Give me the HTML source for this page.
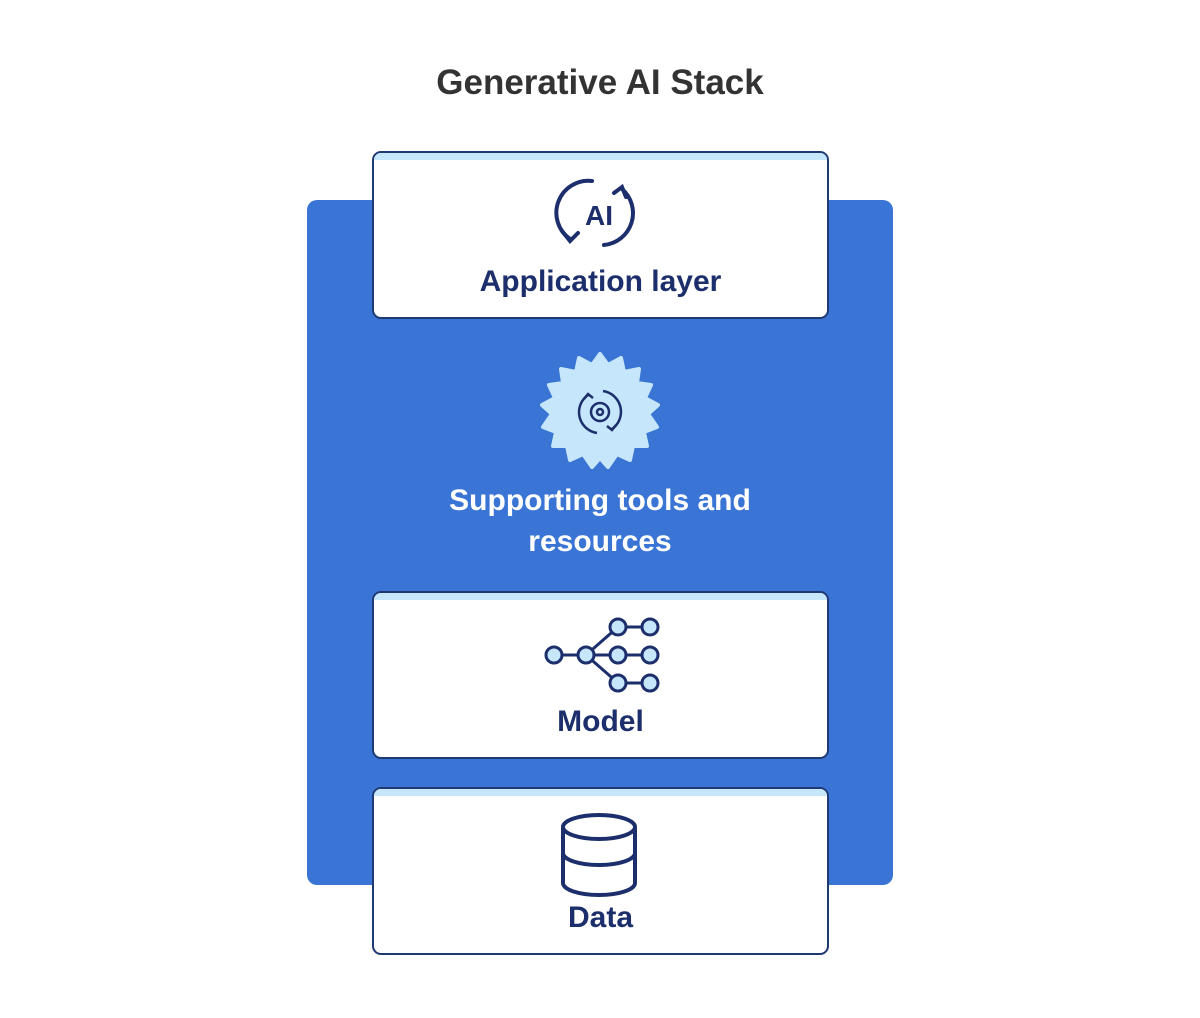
<!DOCTYPE html>
<html><head><meta charset="utf-8"><style>
body{margin:0;width:1200px;height:1018px;background:#fff;position:relative;font-family:"Liberation Sans",sans-serif;overflow:hidden}
.t{position:absolute;left:0;width:1200px;text-align:center;font-weight:bold}
.bg{position:absolute;left:307px;top:200px;width:586px;height:685px;background:#3a75d6;border-radius:10px}
.box{position:absolute;left:372px;width:453px;background:#fff;border:2.5px solid #1f3a73;border-radius:9px;overflow:hidden}
.box:before{content:"";position:absolute;left:0;right:0;top:0;height:7px;background:#c6e6fb}
.lbl{position:absolute;left:0;right:0;text-align:center;font-weight:bold;font-size:30px;color:#1c2e6b}
svg{position:absolute}
</style></head><body>
<div class="t" style="top:63px;font-size:35px;color:#333">Generative AI Stack</div>
<div class="bg"></div>
<div class="box" style="top:151px;height:164px">
 <svg style="left:180px;top:20px" width="90" height="80" viewBox="0 0 90 80">
  <g fill="none" stroke="#1c2e6b" stroke-width="4" stroke-linecap="round">
   <path d="M38 8 A32 32 0 0 0 16 66"/><path d="M8 58 L16 68 L24 60"/>
   <path d="M50 72 A32 32 0 0 0 68 16"/><path d="M60 20 L68 14 L72 24"/>
  </g>
  <text x="45" y="52" text-anchor="middle" font-family="Liberation Sans" font-weight="bold" font-size="28" fill="#1c2e6b">AI</text>
 </svg>
 <div class="lbl" style="top:112px">Application layer</div>
</div>
<svg style="left:540px;top:352px" width="120" height="120" viewBox="-60 -60 120 120">
 <path fill="#c6e6fb" d="M0-58 L8-47 L21-54 L24-40 L39-43 L37-29 L51-27 L45-14 L58-7 L48 2 L57 15 L44 20 L47 34 L33 34 L30 48 L17 42 L8 55 L0 46 L-8 55 L-17 42 L-30 48 L-33 34 L-47 34 L-44 20 L-57 15 L-48 2 L-58-7 L-45-14 L-51-27 L-37-29 L-39-43 L-24-40 L-21-54 L-8-47Z" stroke="#c6e6fb" stroke-width="4" stroke-linejoin="round"/>
 <g fill="none" stroke="#1c2e6b" stroke-width="2.5">
  <path d="M-12-17 A21 21 0 0 0 -3 21"/><path d="M-16-13 L-12-18 L-7-14"/>
  <path d="M12 17 A21 21 0 0 0 3-21"/><path d="M16 13 L12 18 L7 14"/>
  <circle r="9"/><circle r="3"/>
 </g>
</svg>
<div class="t" style="top:480px;font-size:30px;color:#fff;line-height:41px">Supporting tools and<br>resources</div>
<div class="box" style="top:591px;height:164px">
 <svg style="left:166px;top:22px" width="122" height="80" viewBox="0 0 122 80">
  <g stroke="#1c2e6b" stroke-width="3" fill="#c6e6fb">
   <line x1="14" y1="40" x2="110" y2="40"/><line x1="46" y1="40" x2="78" y2="12"/><line x1="46" y1="40" x2="78" y2="68"/><line x1="78" y1="12" x2="110" y2="12"/><line x1="78" y1="68" x2="110" y2="68"/>
   <circle cx="14" cy="40" r="8"/><circle cx="46" cy="40" r="8"/><circle cx="78" cy="40" r="8"/><circle cx="110" cy="40" r="8"/><circle cx="78" cy="12" r="8"/><circle cx="110" cy="12" r="8"/><circle cx="78" cy="68" r="8"/><circle cx="110" cy="68" r="8"/>
  </g>
 </svg>
 <div class="lbl" style="top:112px">Model</div>
</div>
<div class="box" style="top:787px;height:164px">
 <svg style="left:185px;top:22px" width="80" height="86" viewBox="0 0 80 86">
  <g fill="none" stroke="#1c2e6b" stroke-width="4">
   <ellipse cx="40" cy="16" rx="36" ry="12" fill="#fff"/>
   <path d="M4 16 V72 A36 12 0 0 0 76 72 V16"/>
   <path d="M4 42 A36 12 0 0 0 76 42"/>
  </g>
 </svg>
 <div class="lbl" style="top:112px">Data</div>
</div>
</body></html>
